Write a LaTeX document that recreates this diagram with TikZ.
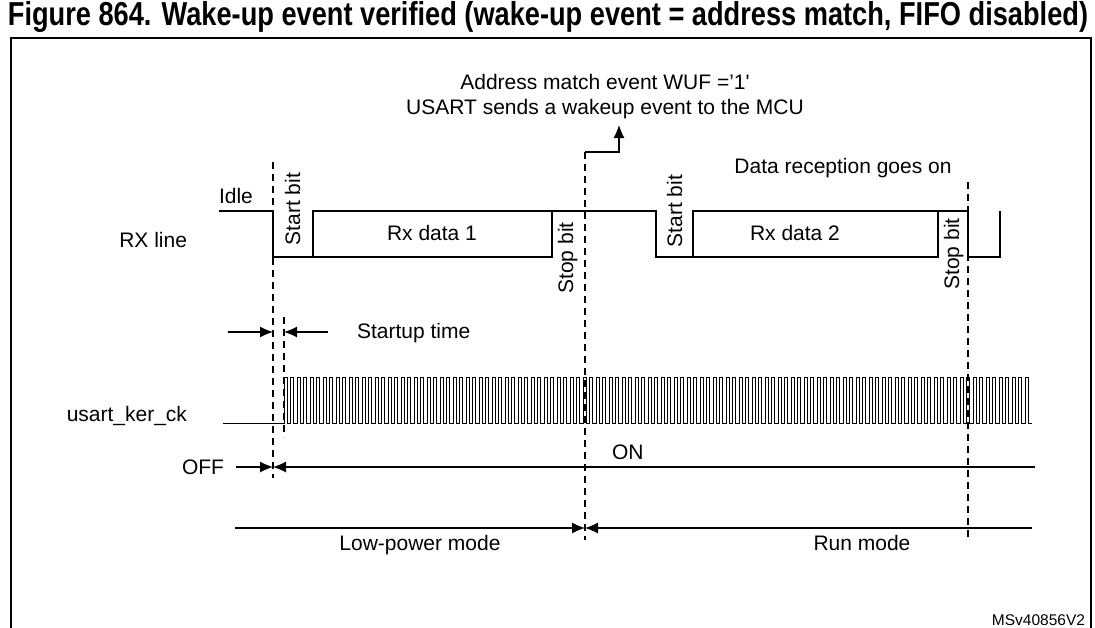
\documentclass[tikz,border=0pt]{standalone}
\usepackage{graphicx}
\usepackage{fontspec}
\setmainfont{Liberation Sans}
\newfontfamily\titlefont{Liberation Sans}[FakeStretch=0.82]
\usetikzlibrary{arrows.meta}
\begin{document}
\begin{tikzpicture}[x=1pt,y=-1pt,
  every node/.style={inner sep=0pt,outer sep=0pt,font=\fontsize{21}{25}\selectfont},
  wave/.style={line width=1.1pt,line join=miter},
  clk/.style={line width=0.8pt},
  guide/.style={line width=1.1pt,dash pattern=on 7pt off 5pt},
  dim/.style={line width=1.1pt,-{Latex[length=13pt,width=11pt]}},
  lbl/.style={anchor=base},
  vlbl/.style={anchor=base,rotate=90},
  frame/.style={line width=2pt}]
\useasboundingbox (0,0) rectangle (1095,627);
% title and frame
\node[lbl] (title) at (548,25) {\resizebox{1080pt}{!}{\titlefont\bfseries Figure 864. Wake-up event verified (wake-up event = address match, FIFO disabled)}};
\draw[frame] (11,640) -- (11,38) -- (1091,38) -- (1091,640);
% top texts
\node[lbl] (addr) at (605,89) {Address match event WUF ='1\textquotesingle};
\node[lbl] (usart) at (605,114) {USART sends a wakeup event to the MCU};
\node[lbl] (drx) at (843,173) {Data reception goes on};
% RX line
\node[lbl,anchor=base east] (rxl) at (187,247) {RX line};
\node[lbl,anchor=base west] (idle) at (219,203) {Idle};
\draw[wave] (219,211) -- (273,211) -- (273,257) -- (552,257) -- (552,211) -- (656,211)
  -- (656,257) -- (938,257) -- (938,211) -- (968,211) -- (968,257) -- (1000,257) -- (1000,211);
\draw[wave] (313,257) -- (313,211) -- (552,211);
\draw[wave] (693,257) -- (693,211) -- (938,211);
\node[lbl] (rx1) at (432,240) {Rx data 1};
\node[lbl] (rx2) at (795,240) {Rx data 2};
\node[vlbl] (st1) at (300,209) {Start bit};
\node[vlbl] (sp1) at (573,258) {Stop bit};
\node[vlbl] (st2) at (682,211) {Start bit};
\node[vlbl] (sp2) at (959,254) {Stop bit};
% dashed guides
\coordinate (d1t) at (273,162); \coordinate (d1b) at (273,478);
\coordinate (d2t) at (284,317); \coordinate (d2b) at (284,437);
\coordinate (wk) at (585,152);  \coordinate (d3b) at (585,540);
\coordinate (d4t) at (968,182); \coordinate (d4b) at (968,540);
\draw[guide] (d1t) -- (d1b);
\draw[guide] (d2t) -- (d2b);
\draw[guide] (wk) -- (d3b);
\draw[guide] (d4t) -- (d4b);
% wakeup arrow
\coordinate (wktip) at (619,125);
\draw[dim] (wk) -- (619,152) -- (wktip);
% startup time
\coordinate (sua) at (228,332); \coordinate (sub) at (273,332);
\coordinate (suc) at (328,332); \coordinate (sud) at (284,332);
\draw[dim] (sua) -- (sub);
\draw[dim] (suc) -- (sud);
\node[lbl,anchor=base west] (sut) at (357,338) {Startup time};
% clock
\node[lbl,anchor=base east] (ckl) at (187,421) {usart\_ker\_ck};
\draw[clk] (223,423) -- (284,423)
  \foreach \i in {0,...,114}{ -- ({284+6.5*\i},423) -- ({284+6.5*\i},377) -- ({287.25+6.5*\i},377) -- ({287.25+6.5*\i},423) }
  -- (1032,423);
% OFF / ON
\node[lbl,anchor=base east] (off) at (224,474) {OFF};
\coordinate (offa) at (236,467); \coordinate (offb) at (273,467);
\coordinate (ona) at (1035,467);
\draw[dim] (offa) -- (offb);
\draw[dim] (ona) -- (offb);
\node[lbl,anchor=base west] (on) at (612,459) {ON};
% modes
\coordinate (lpa) at (235,528); \coordinate (mid) at (585,528); \coordinate (rna) at (1032,528);
\draw[dim] (lpa) -- (mid);
\draw[dim] (rna) -- (mid);
\node[lbl] (lp) at (420,550) {Low-power mode};
\node[lbl] (rn) at (862,550) {Run mode};
\node[lbl,anchor=base east,font=\fontsize{15.5}{18}\selectfont] (ref) at (1085,625) {MSv40856V2};
\end{tikzpicture}
\end{document}
